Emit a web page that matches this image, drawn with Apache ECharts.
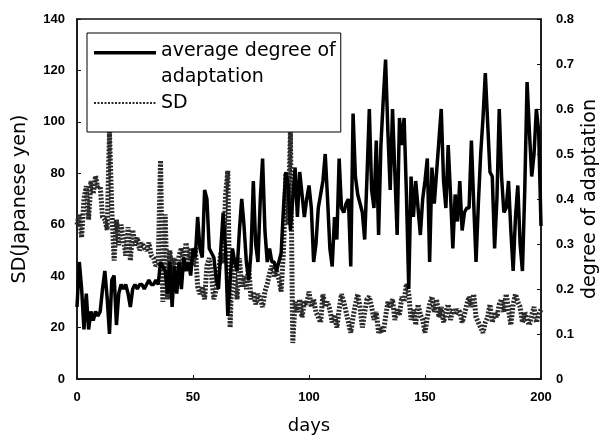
<!DOCTYPE html>
<html>
<head>
<meta charset="utf-8">
<script src="https://cdn.jsdelivr.net/npm/echarts@6/dist/echarts.min.js"></script>
<style>html,body{margin:0;padding:0;background:#fff;overflow:hidden;}#c{width:605px;height:440px;}</style>
</head>
<body>
<div id="c"></div>
<script>
const xTicks = [0, 50, 100, 150, 200];
const leftTicks = [0, 20, 40, 60, 80, 100, 120, 140];
const rightTicks = [0, 0.1, 0.2, 0.3, 0.4, 0.5, 0.6, 0.7, 0.8];
const seriesNames = ['average degree of adaptation', 'SD'];

// average degree of adaptation (right axis), day 0..200
const adaptation = [
0.16,0.26,0.20,0.11,0.19,0.11,0.15,0.13,0.15,0.14,
0.15,0.20,0.24,0.18,0.10,0.22,0.23,0.12,0.19,0.21,
0.20,0.21,0.19,0.16,0.20,0.21,0.20,0.21,0.21,0.20,
0.21,0.22,0.21,0.21,0.22,0.21,0.26,0.25,0.24,0.19,
0.26,0.16,0.25,0.19,0.26,0.20,0.27,0.24,0.26,0.23,
0.29,0.27,0.36,0.29,0.27,0.42,0.40,0.29,0.28,0.27,
0.22,0.20,0.29,0.37,0.29,0.14,0.22,0.29,0.26,0.24,
0.33,0.40,0.34,0.26,0.22,0.28,0.44,0.30,0.26,0.40,
0.49,0.33,0.26,0.29,0.26,0.26,0.24,0.26,0.28,0.38,
0.46,0.43,0.33,0.40,0.47,0.36,0.46,0.41,0.36,0.40,
0.43,0.38,0.26,0.30,0.38,0.41,0.44,0.50,0.40,0.29,
0.25,0.36,0.31,0.49,0.38,0.37,0.39,0.40,0.25,0.59,
0.45,0.41,0.39,0.37,0.31,0.45,0.60,0.42,0.38,0.53,
0.32,0.52,0.62,0.71,0.55,0.42,0.60,0.46,0.32,0.58,
0.52,0.58,0.41,0.20,0.45,0.36,0.44,0.38,0.32,0.40,
0.44,0.49,0.26,0.47,0.39,0.46,0.53,0.60,0.44,0.38,
0.52,0.41,0.29,0.41,0.35,0.44,0.33,0.37,0.38,0.38,
0.53,0.39,0.26,0.39,0.50,0.58,0.68,0.57,0.46,0.45,
0.29,0.40,0.60,0.45,0.37,0.38,0.44,0.33,0.24,0.36,
0.43,0.30,0.24,0.42,0.66,0.55,0.45,0.50,0.60,0.55,
0.34
];

// SD in Japanese yen (left axis), day 0..200
const sd = [
60,64,55,70,75,62,77,72,79,74,
75,63,62,58,96,66,46,62,52,60,
55,48,59,46,58,52,55,50,53,51,
50,53,48,47,44,45,85,30,64,31,
50,41,47,40,48,51,44,53,46,51,
44,51,36,33,36,31,44,47,40,31,
35,42,49,45,71,81,20,47,40,31,
47,36,40,35,44,31,34,29,33,31,
28,34,37,41,44,40,42,39,34,50,
80,60,96,14,30,26,31,24,30,29,
34,28,31,26,24,22,33,28,30,27,
22,25,20,27,33,30,26,22,18,24,
29,33,28,20,26,31,32,28,23,26,
18,20,18,24,30,28,31,23,27,25,
32,30,37,33,23,27,21,29,25,23,
18,24,29,32,26,31,24,28,22,26,
29,23,27,25,27,26,22,25,29,32,
28,33,24,22,20,18,22,24,29,22,
26,24,29,31,26,33,27,21,29,33,
30,28,22,26,23,21,25,28,22,25,
27
];

const days = adaptation.map((_, i) => i);

const chart = echarts.init(document.getElementById('c'), null, {renderer: 'canvas', width: 605, height: 440});
const tickFont = {fontFamily: 'Liberation Sans', fontWeight: 'bold', fontSize: 13, color: '#000'};
const nameFont = {fontFamily: 'DejaVu Sans', fontSize: 19, color: '#000'};

chart.setOption({
  backgroundColor: '#fff',
  animation: false,
  grid: {left: 77, right: 64, top: 19, bottom: 61, containLabel: false, outerBoundsMode: 'none',
         show: true, borderColor: '#111', borderWidth: 1.5},
  legend: {
    orient: 'vertical',
    left: 87, top: 33,
    padding: [5, 5, 16, 6],
    itemGap: 0,
    itemWidth: 62, itemHeight: 26,
    borderColor: '#000', borderWidth: 1,
    backgroundColor: '#fff',
    textStyle: {fontFamily: 'DejaVu Sans', fontSize: 19, color: '#000', lineHeight: 26},
    formatter: function (n) { return n === seriesNames[0] ? 'average degree of\nadaptation' : n; },
    data: [
      {name: seriesNames[0], icon: 'path://M0,0H62V3.5H0Z M0,25.9H0.1V26H0Z', itemStyle: {color: '#000', opacity: 1}},
      {name: seriesNames[1], itemStyle: {opacity: 0}}
    ]
  },
  xAxis: {
    type: 'value', min: xTicks[0], max: xTicks[xTicks.length - 1], interval: 50,
    name: 'days', nameLocation: 'middle', nameGap: 38, nameMoveOverlap: false,
    nameTextStyle: {fontFamily: 'DejaVu Sans', fontSize: 18, color: '#000'},
    axisLine: {show: true, lineStyle: {color: '#111', width: 1.5}},
    axisTick: {show: true, inside: true, length: 4, lineStyle: {color: '#111'}},
    axisLabel: Object.assign({margin: 12}, tickFont),
    splitLine: {show: false}
  },
  yAxis: [
    {
      type: 'value', min: leftTicks[0], max: leftTicks[leftTicks.length - 1], interval: 20,
      name: 'SD(Japanese yen)', nameLocation: 'middle', nameGap: 47, nameRotate: 90, nameMoveOverlap: false,
      nameTextStyle: nameFont,
      axisLine: {show: true, lineStyle: {color: '#111', width: 1.5}},
      axisTick: {show: true, inside: true, length: 4, lineStyle: {color: '#111'}},
      axisLabel: Object.assign({margin: 12}, tickFont),
      splitLine: {show: false}
    },
    {
      type: 'value', min: rightTicks[0], max: rightTicks[rightTicks.length - 1], interval: 0.1,
      position: 'right',
      name: 'degree of adaptation', nameLocation: 'middle', nameGap: 40, nameRotate: 90, nameMoveOverlap: false,
      nameTextStyle: nameFont,
      axisLine: {show: true, lineStyle: {color: '#111', width: 1.5}},
      axisTick: {show: true, inside: true, length: 4, lineStyle: {color: '#111'}},
      axisLabel: Object.assign({margin: 15, formatter: function (v) { return String(Math.round(v * 10) / 10); }}, tickFont),
      splitLine: {show: false}
    }
  ],
  series: [
    {
      name: seriesNames[0], type: 'line', yAxisIndex: 1, z: 3,
      symbol: 'none', showSymbol: false,
      lineStyle: {color: '#000', width: 3.5},
      itemStyle: {color: '#000'},
      data: adaptation.map((v, i) => [days[i], v])
    },
    {
      name: seriesNames[1], type: 'line', yAxisIndex: 0, z: 2,
      symbol: 'none', showSymbol: false,
      lineStyle: {color: '#2a2a2a', width: 5, type: [2, 1.5]},
      itemStyle: {color: '#2a2a2a'},
      data: sd.map((v, i) => [days[i], v])
    }
  ]
});
</script>
</body>
</html>
